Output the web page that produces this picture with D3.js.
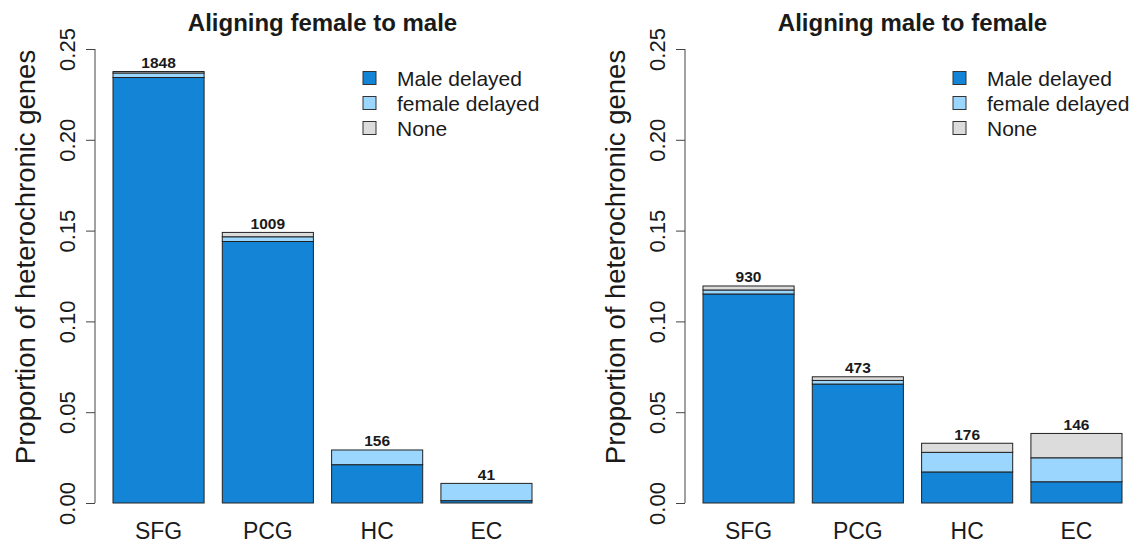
<!DOCTYPE html>
<html>
<head>
<meta charset="utf-8">
<script src="https://cdn.jsdelivr.net/npm/d3@7"></script>
<style>
  html, body { margin: 0; padding: 0; background: #fff; }
  svg { display: block; font-family: "Liberation Sans", Arial, Helvetica, sans-serif; }
</style>
</head>
<body>
<svg id="chart" width="1136" height="546"></svg>
<script>
// Regions and stacked proportions of heterochronic genes
const categories = ["SFG", "PCG", "HC", "EC"];
const seriesNames = ["Male delayed", "female delayed", "None"];
const seriesColors = ["#1384d6", "#9ad6fd", "#dcdcdc"];
const yTicks = [0, 0.05, 0.10, 0.15, 0.20, 0.25];

// Aligning female to male
const f2mMale   = [0.2343, 0.1440, 0.0211, 0.0013];
const f2mFemale = [0.0025, 0.0026, 0.0081, 0.0095];
const f2mNone   = [0.0008, 0.0024, 0.0000, 0.0000];
const f2mCounts = [1848, 1009, 156, 41];

// Aligning male to female
const m2fMale   = [0.1151, 0.0655, 0.0171, 0.0117];
const m2fFemale = [0.0022, 0.0020, 0.0108, 0.0132];
const m2fNone   = [0.0022, 0.0020, 0.0050, 0.0134];
const m2fCounts = [930, 473, 176, 146];

const panels = [
  { title: "Aligning female to male", series: [f2mMale, f2mFemale, f2mNone], counts: f2mCounts, axisX: 95, barLeft: 113, barRight: 532 },
  { title: "Aligning male to female", series: [m2fMale, m2fFemale, m2fNone], counts: m2fCounts, axisX: 685, barLeft: 703, barRight: 1122 }
];

const svg = d3.select("#chart");
const y = d3.scaleLinear().domain([0, 0.25]).range([503, 49]);
const textColor = "#1a1a1a";

panels.forEach(p => {
  const g = svg.append("g");
  // bar slots: width 1, space 0.2 (bars at 0.2..1.2, 1.4..2.4, ...)
  const x = d3.scaleLinear().domain([0.2, 4.8]).range([p.barLeft, p.barRight]);
  const plotLeft = x(0.2 - 0.184), plotRight = x(4.8 + 0.184);

  const rows = categories.map((c, i) => {
    const r = { cat: c, i };
    seriesNames.forEach((s, k) => r[s] = p.series[k][i]);
    return r;
  });
  const stacked = d3.stack().keys(seriesNames)(rows);

  stacked.forEach((layer, k) => {
    g.selectAll(null).data(layer).enter().append("rect")
      .attr("x", (d, i) => x(0.2 + i * 1.2))
      .attr("width", (d, i) => x(1.2 + i * 1.2) - x(0.2 + i * 1.2))
      .attr("y", d => y(d[1]))
      .attr("height", d => y(d[0]) - y(d[1]))
      .attr("fill", seriesColors[k])
      .attr("stroke", "#222")
      .attr("stroke-width", 1);
  });

  // count labels on top of each bar
  g.selectAll(null).data(rows).enter().append("text")
    .attr("x", d => x(0.7 + d.i * 1.2))
    .attr("y", d => y(seriesNames.reduce((a, s) => a + d[s], 0)) - 3.5)
    .attr("text-anchor", "middle")
    .attr("font-size", 15.5).attr("font-weight", "bold")
    .attr("fill", textColor)
    .text((d, i) => p.counts[i]);

  // category labels
  g.selectAll(null).data(rows).enter().append("text")
    .attr("x", d => x(0.7 + d.i * 1.2))
    .attr("y", 539)
    .attr("text-anchor", "middle")
    .attr("font-size", 23)
    .attr("fill", textColor)
    .text(d => d.cat);

  // y axis
  const axis = d3.axisLeft(y).tickValues(yTicks).tickFormat(d3.format(".2f")).tickSize(9).tickSizeOuter(0);
  const ag = g.append("g").attr("transform", `translate(${p.axisX},0)`).call(axis);
  ag.select(".domain").attr("stroke", "#444").attr("d", `M0,${y(0)}V${y(0.25)}`);
  ag.selectAll(".tick line").attr("stroke", "#444");
  ag.selectAll(".tick text")
    .attr("font-size", 22)
    .attr("font-family", "'Liberation Sans', Arial, sans-serif")
    .attr("fill", textColor)
    .attr("x", null).attr("dy", null)
    .attr("text-anchor", "middle")
    .attr("transform", `translate(-20,0) rotate(-90)`);

  // y axis title
  g.append("text")
    .attr("transform", `translate(${p.axisX - 60},257) rotate(-90)`)
    .attr("text-anchor", "middle")
    .attr("font-size", 27.5)
    .attr("fill", textColor)
    .text("Proportion of heterochronic genes");

  // panel title
  g.append("text")
    .attr("x", (plotLeft + plotRight) / 2)
    .attr("y", 31)
    .attr("text-anchor", "middle")
    .attr("font-size", 24).attr("font-weight", "bold")
    .attr("fill", textColor)
    .text(p.title);

  // legend
  const lg = g.append("g").attr("transform", `translate(${p.axisX + 268},0)`);
  seriesNames.forEach((s, k) => {
    const cy = 78 + k * 25;
    lg.append("rect").attr("x", 0).attr("y", cy - 6.5).attr("width", 13).attr("height", 13)
      .attr("fill", seriesColors[k]).attr("stroke", "#333").attr("stroke-width", 1);
    lg.append("text").attr("x", 34).attr("y", cy + 7.5)
      .attr("font-size", 21).attr("fill", textColor).text(s);
  });
});
</script>
</body>
</html>
